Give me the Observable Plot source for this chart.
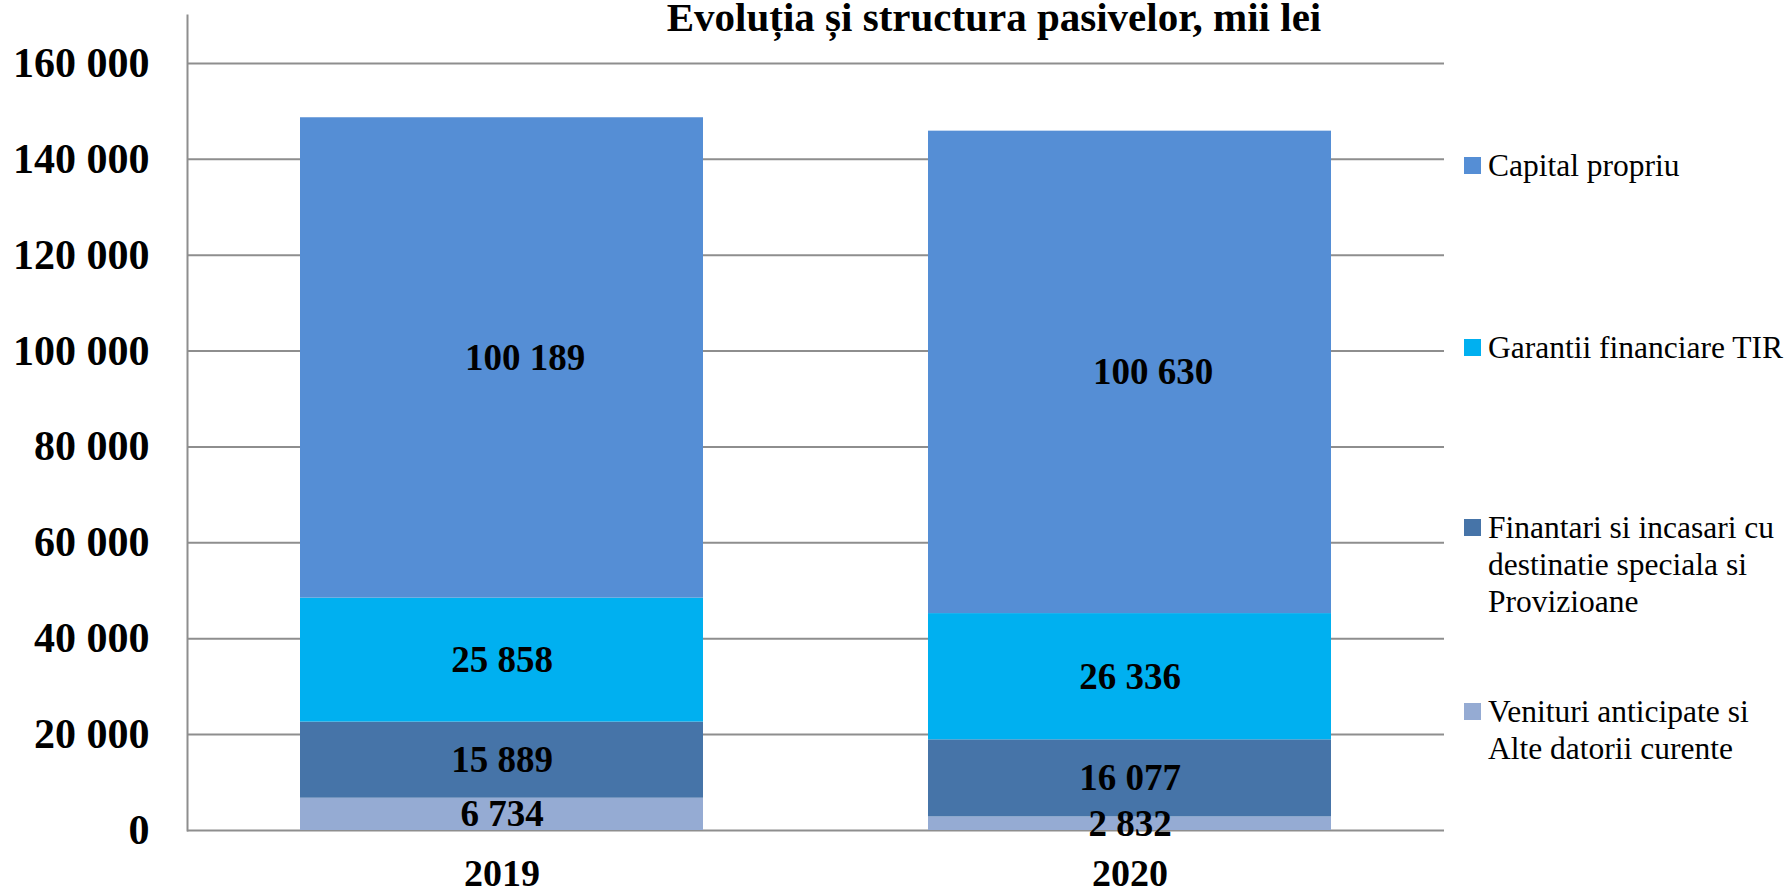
<!DOCTYPE html>
<html>
<head>
<meta charset="utf-8">
<script src="https://cdn.jsdelivr.net/npm/d3@7"></script>
<script src="https://cdn.jsdelivr.net/npm/@observablehq/plot@0.6"></script>
<style>
  html, body { margin: 0; padding: 0; background: #fff; }
  #wrap { position: relative; width: 1790px; height: 890px; overflow: hidden; font-family: "Liberation Serif", "Times New Roman", serif; }
  #title { position: absolute; left: 994px; top: -3px; transform: translateX(-50%); font-size: 41px; line-height: 41px; font-weight: bold; white-space: nowrap; color: #000; }
  .leg { position: absolute; left: 1464px; width: 326px; font-size: 31.5px; line-height: 37px; color: #000; }
  .leg .sw { position: absolute; left: 0; top: 10px; width: 17px; height: 17px; }
  .leg .tx { position: absolute; left: 24px; width: 302px; }
</style>
</head>
<body>
<div id="wrap">
  <div id="chart"></div>
  <div id="title">Evoluția și structura pasivelor, mii lei</div>
</div>
<script>
// ---- data ----
const title = "Evoluția și structura pasivelor, mii lei";
const years = ["2019", "2020"];
// series from bottom of the stack to top
const series = [
  "Venituri anticipate si Alte datorii curente",
  "Finantari si incasari cu destinatie speciala si Provizioane",
  "Garantii financiare TIR",
  "Capital propriu"
];
const venituri = [6734, 2832];
const finantari = [15889, 16077];
const garantii = [25858, 26336];
const capital = [100189, 100630];
const yTicks = [0, 20000, 40000, 60000, 80000, 100000, 120000, 140000, 160000];
const colors = ["#95abd3", "#4674a8", "#00b0f0", "#558ed5"];
// legend listed top to bottom
const legendOrder = ["Capital propriu", "Garantii financiare TIR",
  "Finantari si incasari cu destinatie speciala si Provizioane",
  "Venituri anticipate si Alte datorii curente"];

// ---- table built from arrays ----
const seriesValues = [venituri, finantari, garantii, capital];
const data = [];
years.forEach((yr, i) => {
  series.forEach((s, j) => data.push({year: yr, series: s, value: seriesValues[j][i]}));
});

const fmt = d => d3.format(",")(d).replace(/,/g, " ");
const serif = "Liberation Serif, Times New Roman, serif";
const topSeries = "Capital propriu";

const chart = Plot.plot({
  width: 1790,
  height: 890,
  marginLeft: 187,
  marginRight: 346,
  marginTop: 15,
  marginBottom: 60,
  style: {fontFamily: serif, background: "white", color: "#000"},
  x: {domain: years, paddingInner: 0.358, paddingOuter: 0.179, label: null},
  y: {domain: [0, 170000], label: null},
  color: {domain: series, range: colors},
  marks: [
    Plot.ruleY(yTicks, {stroke: "#8e8e8e", strokeWidth: 2}),
    Plot.frame({anchor: "left", stroke: "#8e8e8e", strokeWidth: 2}),
    Plot.barY(data, Plot.stackY({x: "year", y: "value", fill: "series", order: series})),
    Plot.text(data, Plot.stackY({
      x: "year", y: "value", z: "series", order: series,
      text: d => d.series !== topSeries ? fmt(d.value) : null,
      fontSize: 37, fontWeight: "bold", fill: "#000"
    })),
    Plot.text(data, Plot.stackY({
      x: "year", y: "value", z: "series", order: series,
      text: d => d.series === topSeries ? fmt(d.value) : null,
      fontSize: 37, fontWeight: "bold", fill: "#000", dx: 23
    })),
    Plot.axisY({ticks: yTicks, tickFormat: fmt, tickSize: 0, tickPadding: 38,
      fontSize: 42, fontWeight: "bold", fontFamily: serif, label: null}),
    Plot.axisX({tickSize: 0, tickPadding: 29, fontSize: 38, fontWeight: "bold",
      fontFamily: serif, label: null})
  ]
});
document.getElementById("chart").appendChild(chart);

// ---- legend ----
const legendTops = [147, 329, 509, 693];
const wrap = document.getElementById("wrap");
legendOrder.forEach((name, i) => {
  const item = document.createElement("div");
  item.className = "leg";
  item.style.top = legendTops[i] + "px";
  const sw = document.createElement("div");
  sw.className = "sw";
  sw.style.background = colors[series.indexOf(name)];
  const tx = document.createElement("div");
  tx.className = "tx";
  tx.textContent = name;
  item.appendChild(sw);
  item.appendChild(tx);
  wrap.appendChild(item);
});
</script>
</body>
</html>
